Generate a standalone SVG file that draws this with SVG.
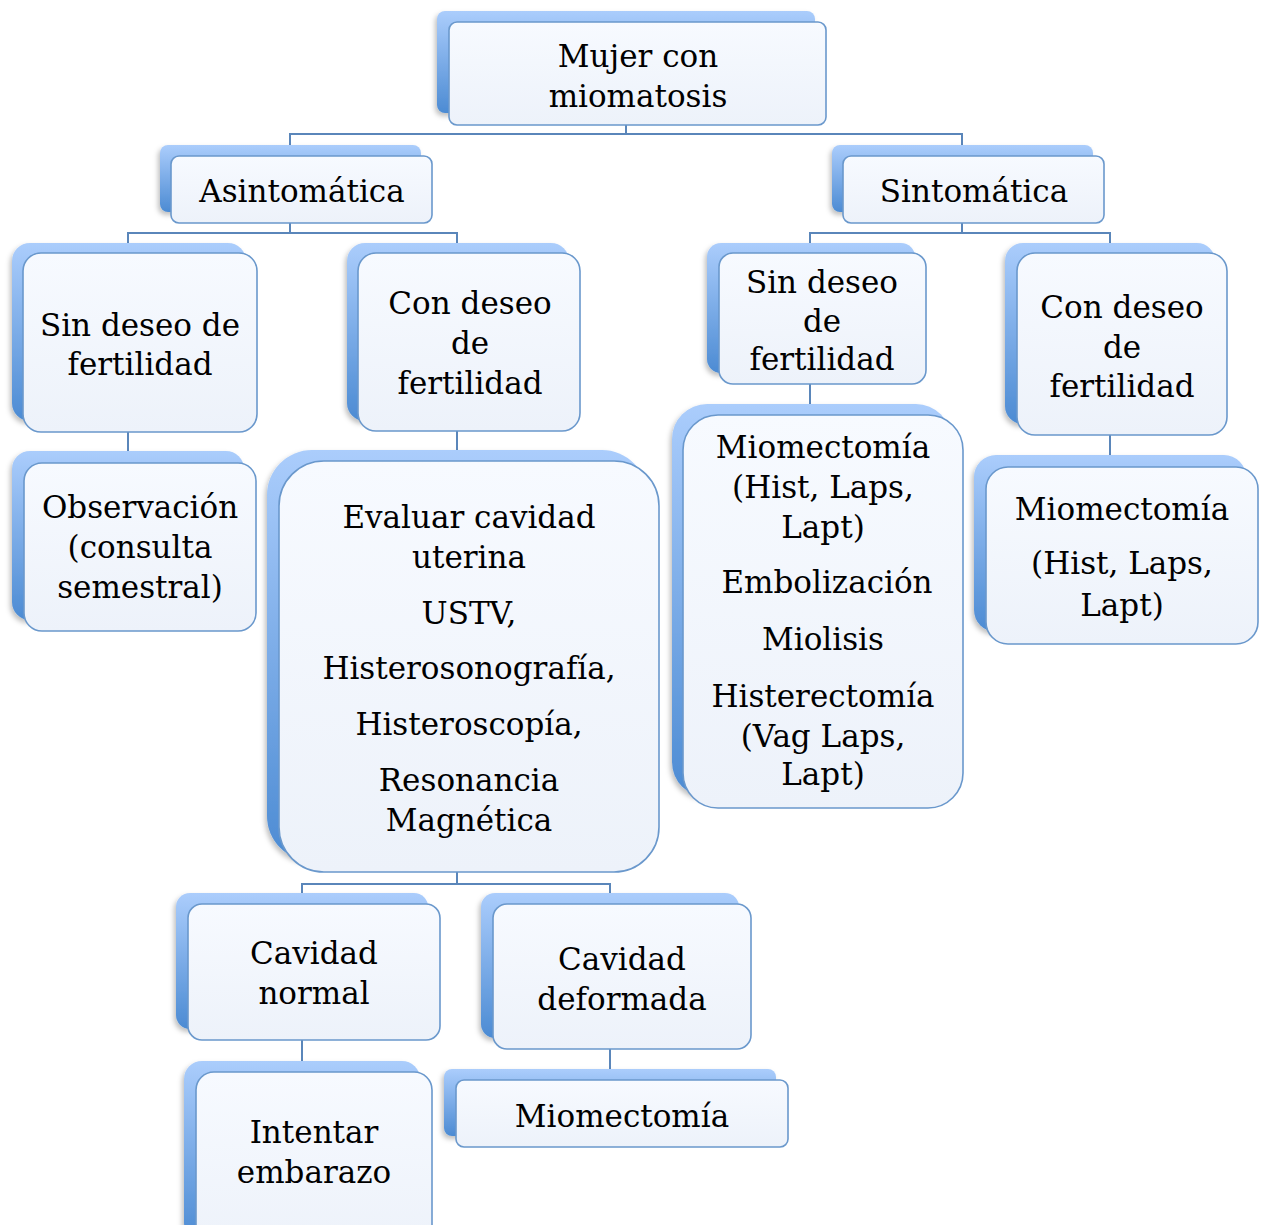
<svg xmlns="http://www.w3.org/2000/svg" width="1263" height="1225" viewBox="0 0 1263 1225">
<defs>
<linearGradient id="sh" x1="0" y1="0" x2="0" y2="1">
<stop offset="0" stop-color="#abcdfc"/>
<stop offset="1" stop-color="#4c8bd3"/>
</linearGradient>
<linearGradient id="fr" x1="0" y1="0" x2="0" y2="1">
<stop offset="0" stop-color="#f7faff"/>
<stop offset="1" stop-color="#edf2fa"/>
</linearGradient>
<filter id="ds" x="-10%" y="-10%" width="130%" height="130%">
<feDropShadow dx="-2" dy="3" stdDeviation="2.5" flood-color="#000" flood-opacity="0.25"/>
</filter>
<style>
.s{fill:url(#sh);filter:url(#ds)}
.f{fill:url(#fr);stroke:#6a98cc;stroke-width:1.6}
.t{font-family:"DejaVu Serif","Liberation Serif",serif;font-size:31px;fill:#000;text-anchor:middle}
.c{fill:none;stroke:#5a86ba;stroke-width:2}
</style>
</defs>
<rect width="1263" height="1225" fill="#fff"/>
<g id="connectors" class="c">
<path d="M626 125V134M290 156V134H962V156"/>
<path d="M290 223V233M128 253V233H457V253"/>
<path d="M962 223V233M810 253V233H1110V253"/>
<path d="M128 432V463"/>
<path d="M457 431V461"/>
<path d="M810 384V415"/>
<path d="M1110 435V467"/>
<path d="M457 872V884M302 904V884H610V904"/>
<path d="M302 1040V1072"/>
<path d="M610 1049V1080"/>
</g>
<g id="n1"><rect class="s" x="437" y="11" width="378" height="102" rx="8"/><rect class="f" x="449" y="22" width="377" height="103" rx="8"/>
<text class="t" x="638" y="67">Mujer con</text><text class="t" x="638" y="107">miomatosis</text></g>
<g id="n2"><rect class="s" x="160" y="145" width="261" height="67" rx="8"/><rect class="f" x="171" y="156" width="261" height="67" rx="8"/>
<text class="t" x="302" y="202">Asintomática</text></g>
<g id="n3"><rect class="s" x="832" y="145" width="261" height="67" rx="8"/><rect class="f" x="843" y="156" width="261" height="67" rx="8"/>
<text class="t" x="974" y="202">Sintomática</text></g>
<g id="n4"><rect class="s" x="12" y="243" width="234" height="178" rx="18"/><rect class="f" x="23" y="253" width="234" height="179" rx="18"/>
<text class="t" x="140" y="336">Sin deseo de</text><text class="t" x="140" y="375">fertilidad</text></g>
<g id="n5"><rect class="s" x="347" y="243" width="222" height="178" rx="18"/><rect class="f" x="358" y="253" width="222" height="178" rx="18"/>
<text class="t" x="470" y="314">Con deseo</text><text class="t" x="470" y="354">de</text><text class="t" x="470" y="394">fertilidad</text></g>
<g id="n6"><rect class="s" x="707" y="243" width="208" height="130" rx="14"/><rect class="f" x="719" y="253" width="207" height="131" rx="14"/>
<text class="t" x="822" y="293">Sin deseo</text><text class="t" x="822" y="332">de</text><text class="t" x="822" y="370">fertilidad</text></g>
<g id="n7"><rect class="s" x="1005" y="243" width="210" height="181" rx="18"/><rect class="f" x="1017" y="253" width="210" height="182" rx="18"/>
<text class="t" x="1122" y="318">Con deseo</text><text class="t" x="1122" y="358">de</text><text class="t" x="1122" y="397">fertilidad</text></g>
<g id="n8"><rect class="s" x="12" y="451" width="232" height="169" rx="18"/><rect class="f" x="24" y="463" width="232" height="168" rx="18"/>
<text class="t" x="140" y="518">Observación</text><text class="t" x="140" y="558">(consulta</text><text class="t" x="140" y="598">semestral)</text></g>
<g id="n9"><rect class="s" x="267" y="450" width="380" height="411" rx="45"/><rect class="f" x="279" y="461" width="380" height="411" rx="45"/>
<text class="t" x="469" y="528">Evaluar cavidad</text><text class="t" x="469" y="568">uterina</text>
<text class="t" x="469" y="624">USTV,</text><text class="t" x="469" y="679">Histerosonografía,</text><text class="t" x="469" y="735">Histeroscopía,</text>
<text class="t" x="469" y="791">Resonancia</text><text class="t" x="469" y="831">Magnética</text></g>
<g id="n10"><rect class="s" x="672" y="404" width="279" height="393" rx="35"/><rect class="f" x="683" y="415" width="280" height="393" rx="35"/>
<text class="t" x="823" y="458">Miomectomía</text><text class="t" x="823" y="498">(Hist, Laps,</text><text class="t" x="823" y="538">Lapt)</text>
<text class="t" x="827" y="593">Embolización</text><text class="t" x="823" y="650">Miolisis</text>
<text class="t" x="823" y="707">Histerectomía</text><text class="t" x="823" y="747">(Vag Laps,</text><text class="t" x="823" y="785">Lapt)</text></g>
<g id="n11"><rect class="s" x="974" y="455" width="272" height="177" rx="22"/><rect class="f" x="986" y="467" width="272" height="177" rx="22"/>
<text class="t" x="1122" y="520">Miomectomía</text><text class="t" x="1122" y="574">(Hist, Laps,</text><text class="t" x="1122" y="616">Lapt)</text></g>
<g id="n12"><rect class="s" x="176" y="893" width="252" height="136" rx="14"/><rect class="f" x="188" y="904" width="252" height="136" rx="14"/>
<text class="t" x="314" y="964">Cavidad</text><text class="t" x="314" y="1004">normal</text></g>
<g id="n13"><rect class="s" x="481" y="893" width="258" height="145" rx="14"/><rect class="f" x="493" y="904" width="258" height="145" rx="14"/>
<text class="t" x="622" y="970">Cavidad</text><text class="t" x="622" y="1010">deformada</text></g>
<g id="n14"><rect class="s" x="184" y="1061" width="236" height="180" rx="18"/><rect class="f" x="196" y="1072" width="236" height="180" rx="18"/>
<text class="t" x="314" y="1143">Intentar</text><text class="t" x="314" y="1183">embarazo</text></g>
<g id="n15"><rect class="s" x="444" y="1069" width="332" height="67" rx="8"/><rect class="f" x="456" y="1080" width="332" height="67" rx="8"/>
<text class="t" x="622" y="1127">Miomectomía</text></g>
</svg>
